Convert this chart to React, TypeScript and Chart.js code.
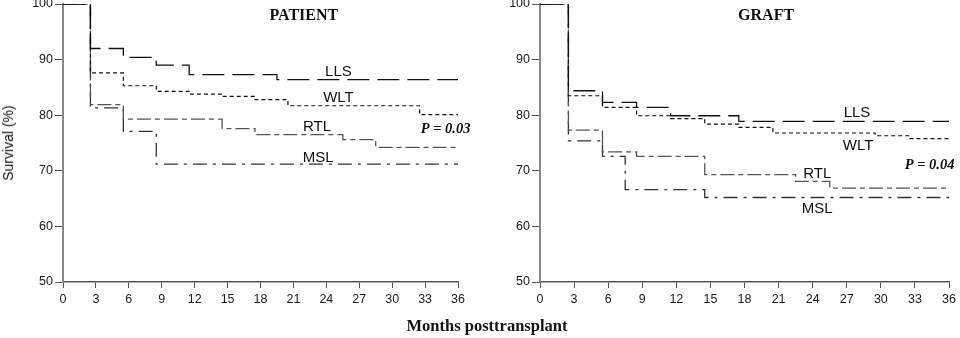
import React, { useEffect, useRef } from 'react';
import { Chart, registerables } from 'chart.js';

Chart.register(...registerables);

// ---------- axes ----------
const monthTicks = [0, 3, 6, 9, 12, 15, 18, 21, 24, 27, 30, 33, 36];
const survivalTicks = [50, 60, 70, 80, 90, 100];

// ---------- PATIENT survival ----------
const patientLLSMonths = [0, 2.5, 5.5, 8.5, 11.5, 19.5, 36];
const patientLLSValues = [100, 92.0, 90.4, 89.0, 87.3, 86.4, 86.4];
const patientWLTMonths = [0, 2.5, 5.5, 8.5, 11.5, 14.5, 17.5, 20.5, 32.5, 36];
const patientWLTValues = [100, 87.6, 85.3, 84.3, 83.8, 83.4, 82.8, 81.7, 80.1, 80.1];
const patientRTLMonths = [0, 2.5, 5.5, 14.5, 17.5, 25.5, 28.5, 36];
const patientRTLValues = [100, 81.9, 79.3, 77.6, 76.5, 75.6, 74.2, 74.2];
const patientMSLMonths = [0, 2.5, 5.5, 8.5, 36];
const patientMSLValues = [100, 81.3, 77.1, 71.2, 71.2];

// ---------- GRAFT survival ----------
const graftLLSMonths = [0, 2.5, 5.5, 8.5, 11.5, 17.5, 36];
const graftLLSValues = [100, 84.4, 82.3, 81.4, 79.9, 78.9, 78.9];
const graftWLTMonths = [0, 2.5, 5.5, 8.5, 11.5, 14.5, 17.5, 20.5, 29.5, 32.5, 36];
const graftWLTValues = [100, 83.5, 81.4, 79.9, 79.4, 78.4, 77.8, 76.8, 76.3, 75.8, 75.8];
const graftRTLMonths = [0, 2.5, 5.5, 8.5, 14.5, 22.5, 25.5, 36];
const graftRTLValues = [100, 77.3, 73.4, 72.6, 69.3, 68.1, 66.9, 66.9];
const graftMSLMonths = [0, 2.5, 5.5, 7.5, 14.5, 36];
const graftMSLValues = [100, 75.4, 72.6, 66.6, 65.2, 65.2];

const groupNames = ['LLS', 'WLT', 'RTL', 'MSL'];
const patientPValue = 'P = 0.03';
const graftPValue = 'P = 0.04';

// ---------- styles ----------
const SANS = '"Liberation Sans", Arial, Helvetica, sans-serif';
const SERIF = '"Liberation Serif", "Times New Roman", Times, serif';

const groupStyles: Record<string, any> = {
  LLS: { borderColor: '#111', borderDash: [22, 8], borderWidth: 1.3 },
  WLT: { borderColor: '#111', borderDash: [4, 3], borderWidth: 1.2 },
  RTL: { borderColor: '#555', borderDash: [14, 4, 5, 4], borderWidth: 1.3 },
  MSL: { borderColor: '#333', borderDash: [14, 6, 3, 6], borderWidth: 1.3 },
};

const toPoints = (xs: number[], ys: number[]) => xs.map((x, i) => ({ x, y: ys[i] }));

const textLabelsPlugin = {
  id: 'textLabels',
  afterDatasetsDraw(chart: any, _args: any, opts: any) {
    const items = (opts && opts.items) || [];
    const { ctx, scales } = chart;
    ctx.save();
    items.forEach((it: any) => {
      ctx.font = it.font;
      ctx.fillStyle = it.color || '#111';
      ctx.textAlign = it.align || 'center';
      ctx.textBaseline = 'middle';
      ctx.fillText(it.text, scales.x.getPixelForValue(it.x), scales.y.getPixelForValue(it.y));
    });
    ctx.restore();
  },
};

type PanelProps = {
  left: number;
  width: number;
  yAxisWidth: number;
  rightPad: number;
  series: { name: string; months: number[]; values: number[] }[];
  labels: any[];
};

function Panel({ left, width, yAxisWidth, rightPad, series, labels }: PanelProps) {
  const ref = useRef<HTMLCanvasElement>(null);
  useEffect(() => {
    if (!ref.current) return;
    const chart = new Chart(ref.current, {
      type: 'line',
      data: {
        datasets: series.map((s) => ({
          label: s.name,
          data: toPoints(s.months, s.values),
          stepped: 'before',
          pointRadius: 0,
          fill: false,
          ...groupStyles[s.name],
        })),
      },
      options: {
        responsive: false,
        animation: false,
        devicePixelRatio: 1,
        layout: { padding: { top: 4, right: rightPad, left: 0, bottom: 0 } },
        plugins: {
          legend: { display: false },
          tooltip: { enabled: false },
          textLabels: { items: labels },
        } as any,
        scales: {
          x: {
            type: 'linear',
            min: 0,
            max: 36,
            afterBuildTicks: (s: any) => { s.ticks = monthTicks.map((v) => ({ value: v })); },
            afterFit: (s: any) => { s.height = 56; s.paddingLeft = 0; s.paddingRight = 0; },
            border: { display: true, color: '#555', width: 1.5 },
            grid: { display: true, drawOnChartArea: false, drawTicks: true, tickLength: 6, tickColor: '#555', tickWidth: 1 },
            ticks: { color: '#1a1a1a', padding: 4, maxRotation: 0, font: { family: SANS, size: 12.5 } },
          },
          y: {
            type: 'linear',
            min: 50,
            max: 100,
            afterBuildTicks: (s: any) => { s.ticks = survivalTicks.map((v) => ({ value: v })); },
            afterFit: (s: any) => { s.width = yAxisWidth; s.paddingTop = 0; s.paddingBottom = 0; },
            border: { display: true, color: '#888', width: 2 },
            grid: { display: true, drawOnChartArea: false, drawTicks: true, tickLength: 8, tickColor: '#555', tickWidth: 1 },
            ticks: { color: '#1a1a1a', padding: 2, font: { family: SANS, size: 12.5 } },
          },
        },
      },
      plugins: [textLabelsPlugin],
    } as any);
    return () => chart.destroy();
  }, []);
  return (
    <canvas
      ref={ref}
      width={width}
      height={338}
      style={{ position: 'absolute', left, top: 0, width, height: 338 }}
    />
  );
}

const labelFont = `15px ${SANS}`;
const titleFont = `bold 16px ${SERIF}`;
const pFont = `italic bold 14.5px ${SERIF}`;

const patientLabels = [
  { text: 'PATIENT', x: 21.95, y: 97.9, font: titleFont },
  { text: groupNames[0], x: 25.1, y: 87.8, font: labelFont },
  { text: groupNames[1], x: 25.1, y: 83.15, font: labelFont },
  { text: groupNames[2], x: 23.15, y: 77.9, font: labelFont },
  { text: groupNames[3], x: 23.25, y: 72.4, font: labelFont },
  { text: patientPValue, x: 32.6, y: 77.5, font: pFont, align: 'left' },
];

const graftLabels = [
  { text: 'GRAFT', x: 19.9, y: 97.9, font: titleFont },
  { text: groupNames[0], x: 27.9, y: 80.45, font: labelFont },
  { text: groupNames[1], x: 28.0, y: 74.5, font: labelFont },
  { text: groupNames[2], x: 24.4, y: 69.5, font: labelFont },
  { text: groupNames[3], x: 24.4, y: 63.2, font: labelFont },
  { text: graftPValue, x: 32.1, y: 71.0, font: pFont, align: 'left' },
];

export default function App() {
  const patientSeries = [
    { name: 'LLS', months: patientLLSMonths, values: patientLLSValues },
    { name: 'WLT', months: patientWLTMonths, values: patientWLTValues },
    { name: 'RTL', months: patientRTLMonths, values: patientRTLValues },
    { name: 'MSL', months: patientMSLMonths, values: patientMSLValues },
  ];
  const graftSeries = [
    { name: 'LLS', months: graftLLSMonths, values: graftLLSValues },
    { name: 'WLT', months: graftWLTMonths, values: graftWLTValues },
    { name: 'RTL', months: graftRTLMonths, values: graftRTLValues },
    { name: 'MSL', months: graftMSLMonths, values: graftMSLValues },
  ];
  return (
    <div style={{ position: 'absolute', left: 0, top: 0, width: 960, height: 338, background: '#fff', overflow: 'hidden' }}>
      <Panel left={0} width={480} yAxisWidth={63} rightPad={22} series={patientSeries} labels={patientLabels} />
      <Panel left={480} width={480} yAxisWidth={60} rightPad={11} series={graftSeries} labels={graftLabels} />
      <div
        style={{
          position: 'absolute',
          left: 8,
          top: 143,
          transform: 'translate(-50%, -50%) rotate(-90deg)',
          whiteSpace: 'nowrap',
          font: `14px ${SANS}`,
          color: '#111',
        }}
      >
        Survival (%)
      </div>
      <div
        style={{
          position: 'absolute',
          left: 487,
          top: 326,
          transform: 'translate(-50%, -50%)',
          whiteSpace: 'nowrap',
          font: `bold 16.5px ${SERIF}`,
          color: '#111',
        }}
      >
        Months posttransplant
      </div>
    </div>
  );
}
